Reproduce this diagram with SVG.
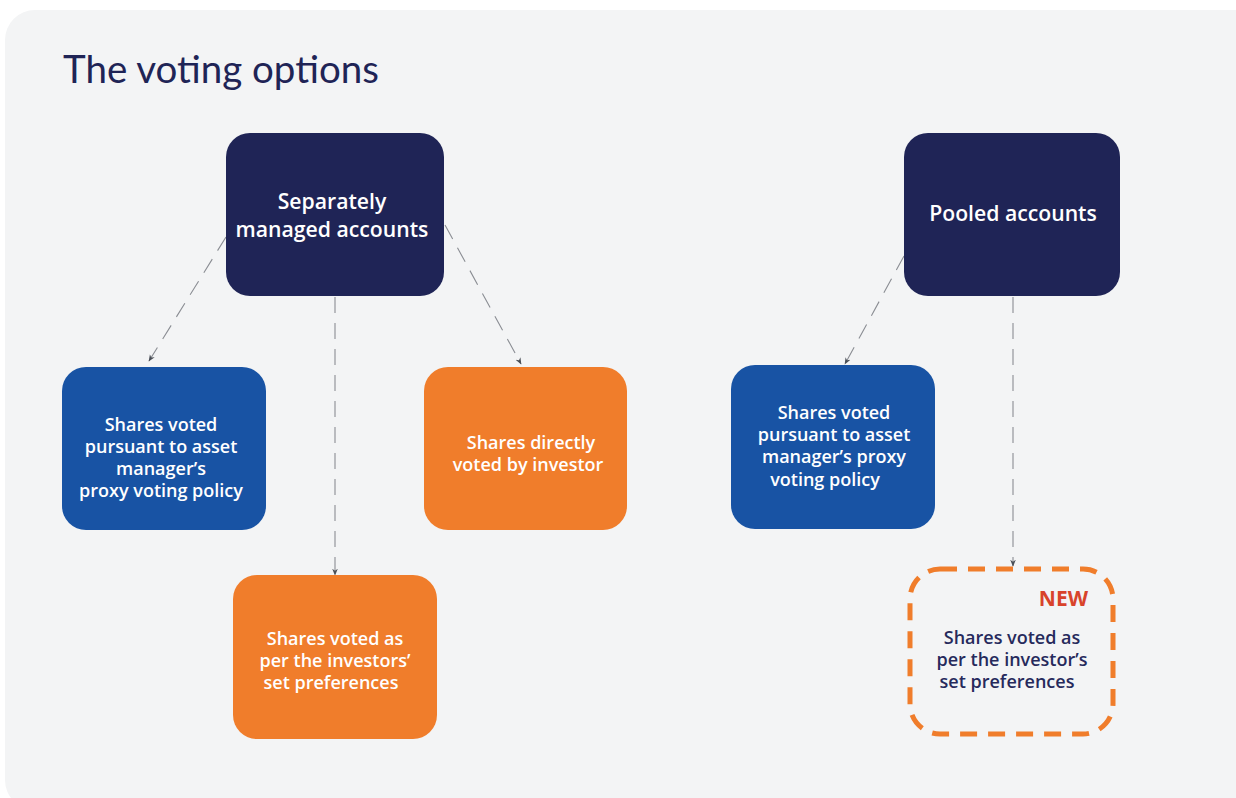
<svg xmlns="http://www.w3.org/2000/svg" width="1236" height="798" viewBox="0 0 1236 798">
<defs>
<style>
.bg{fill:#f3f4f5}
.title{font-family:Lato,"Open Sans","Liberation Sans",sans-serif;font-size:38.5px;fill:#1f2456}
.nav{fill:#1f2456}
.blue{fill:#1853a4}
.orange{fill:#f07d2b}
.t{font-family:"Open Sans","Noto Sans","Liberation Sans",sans-serif;font-weight:600;fill:#ffffff;text-anchor:middle}
.big{font-size:21.2px}
.sm{font-size:18px}
.dark{fill:#262a5c}
.new{font-family:"Open Sans","Noto Sans","Liberation Sans",sans-serif;font-weight:700;font-size:21px;fill:#d8432b;text-anchor:end}
.conn{fill:none;stroke:#8a8d93;stroke-width:1.1;stroke-dasharray:16 10;marker-end:url(#ah)}
</style>
<marker id="ah" viewBox="0 0 10 10" refX="9" refY="5" markerWidth="7" markerHeight="7" orient="auto" markerUnits="userSpaceOnUse">
<path d="M0,1 L10,5 L0,9 L3,5 Z" fill="#4a4f57"/>
</marker>
</defs>
<rect class="bg" x="5" y="10" width="1260" height="800" rx="30"/>
<text class="title" x="63" y="83">The voting options</text>

<g id="connectors">
<line class="conn" x1="226" y1="237" x2="149" y2="361"/>
<line class="conn" x1="335" y1="297" x2="335" y2="575"/>
<line class="conn" x1="445" y1="225" x2="521" y2="364"/>
<line class="conn" x1="904" y1="256" x2="845" y2="364"/>
<line class="conn" x1="1013" y1="297" x2="1013" y2="566"/>
</g>

<g id="separately-managed">
<rect class="nav" x="226" y="133" width="218" height="163" rx="24"/>
<text class="t big" x="332" y="209">Separately</text>
<text class="t big" x="332" y="237">managed accounts</text>
</g>

<g id="pooled">
<rect class="nav" x="904" y="133" width="216" height="163" rx="24"/>
<text class="t big" x="1013" y="221">Pooled accounts</text>
</g>

<g id="sma-proxy-policy">
<rect class="blue" x="62" y="367" width="204" height="163" rx="24"/>
<text class="t sm" x="161" y="431">Shares voted</text>
<text class="t sm" x="161" y="453">pursuant to asset</text>
<text class="t sm" x="161" y="475">manager’s</text>
<text class="t sm" x="161" y="497">proxy voting policy</text>
</g>

<g id="sma-direct">
<rect class="orange" x="424" y="367" width="203" height="163" rx="24"/>
<text class="t sm" x="531" y="449">Shares directly</text>
<text class="t sm" x="528" y="471">voted by investor</text>
</g>

<g id="sma-preferences">
<rect class="orange" x="233" y="575" width="204" height="164" rx="24"/>
<text class="t sm" x="335" y="645">Shares voted as</text>
<text class="t sm" x="335" y="667">per the investors’</text>
<text class="t sm" x="331" y="689">set preferences</text>
</g>

<g id="pooled-proxy-policy">
<rect class="blue" x="731" y="365" width="204" height="164" rx="24"/>
<text class="t sm" x="834" y="419">Shares voted</text>
<text class="t sm" x="834" y="441">pursuant to asset</text>
<text class="t sm" x="834" y="463">manager’s proxy</text>
<text class="t sm" x="825" y="486">voting policy</text>
</g>

<g id="pooled-preferences">
<rect x="910" y="569" width="203" height="165" rx="30" fill="none" stroke="#f07d2b" stroke-width="5" stroke-dasharray="17 11"/>
<text class="new" x="1088" y="606">NEW</text>
<text class="t sm dark" x="1012" y="644">Shares voted as</text>
<text class="t sm dark" x="1012" y="666">per the investor’s</text>
<text class="t sm dark" x="1007" y="688">set preferences</text>
</g>
</svg>
